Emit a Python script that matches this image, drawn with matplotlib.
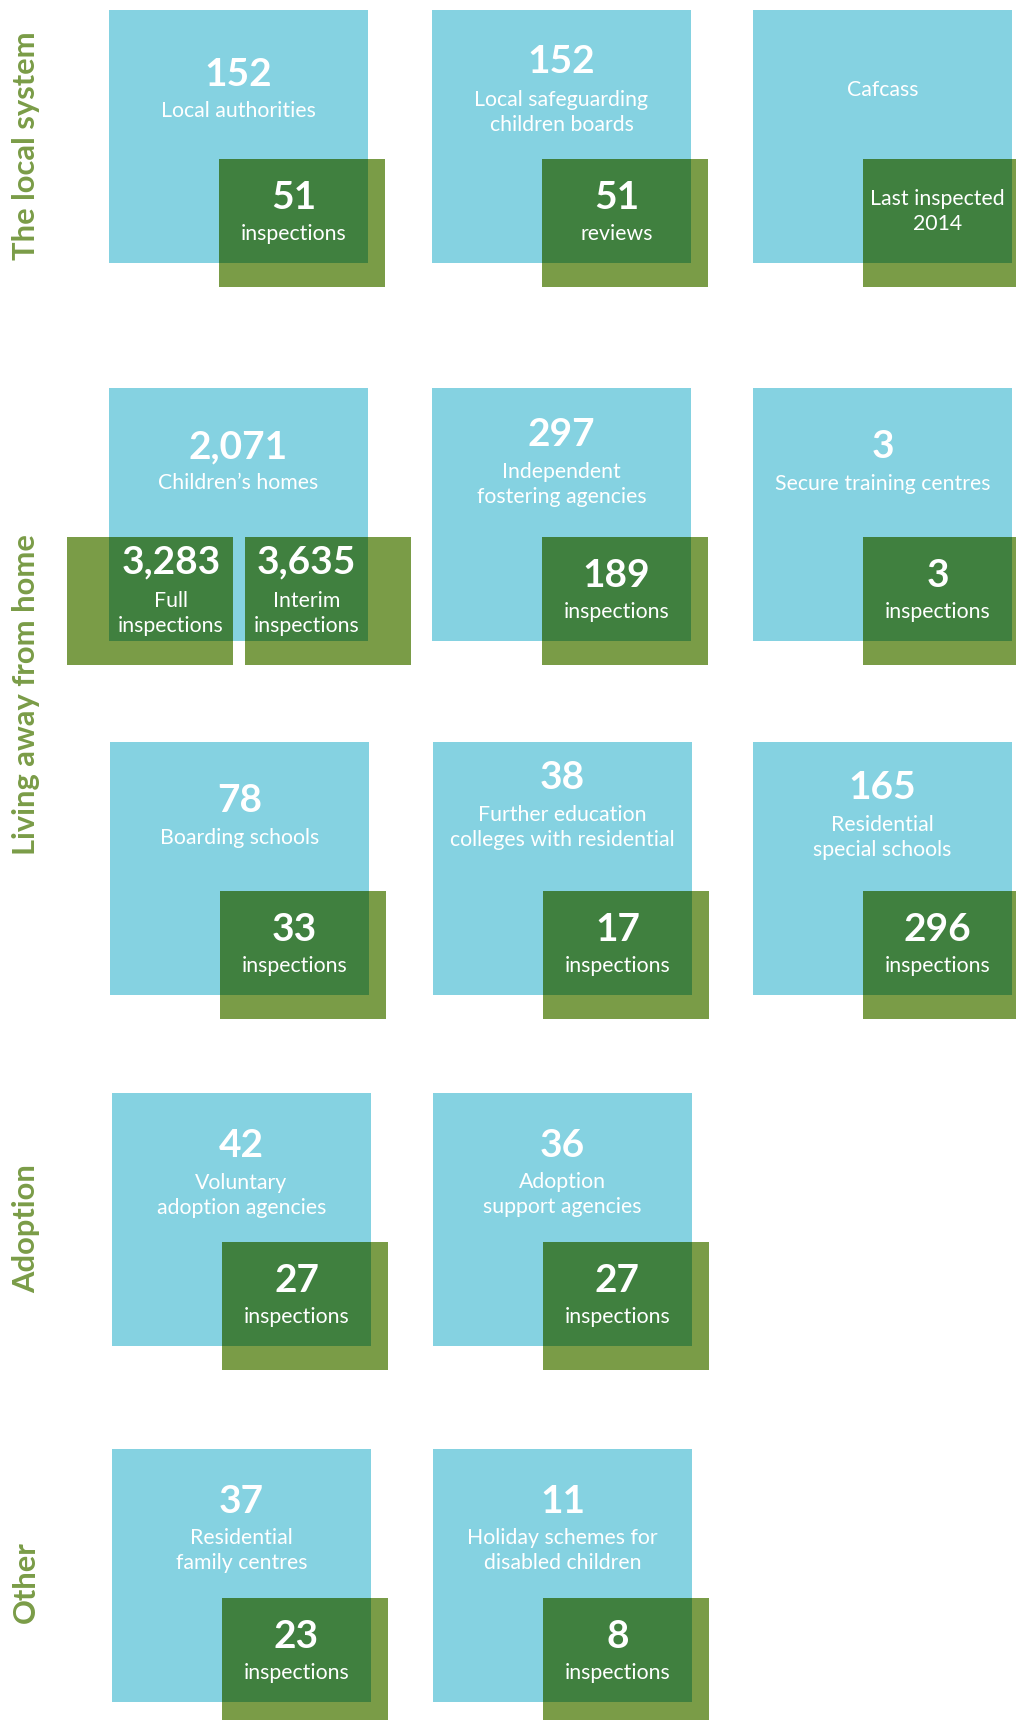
import matplotlib
matplotlib.use("Agg")
import matplotlib.pyplot as plt
from matplotlib.patches import Rectangle

# data
sections = ["The local system", "Living away from home", "Adoption", "Other"]
providers = ["Local authorities", "Local safeguarding\nchildren boards", "Cafcass",
             "Children’s homes", "Independent\nfostering agencies", "Secure training centres",
             "Boarding schools", "Further education\ncolleges with residential",
             "Residential\nspecial schools",
             "Voluntary\nadoption agencies", "Adoption\nsupport agencies",
             "Residential\nfamily centres", "Holiday schemes for\ndisabled children"]
provider_counts = [152, 152, None, 2071, 297, 3, 78, 38, 165, 42, 36, 37, 11]
inspection_counts = [51, 51, None, None, 189, 3, 33, 17, 296, 27, 27, 23, 8]
inspection_labels = ["inspections", "reviews", "Last inspected\n2014", None,
                     "inspections", "inspections", "inspections", "inspections",
                     "inspections", "inspections", "inspections", "inspections",
                     "inspections"]
home_counts = [3283, 3635]
home_labels = ["Full\ninspections", "Interim\ninspections"]

# layout (pixels, y down)
row_tops = [10, 388, 742, 1093, 1449]
col_lefts = [[109, 432, 753], [109, 432, 753], [110, 433, 753], [112, 433], [112, 433]]
# baseline of number / first label line, measured from box top
text_offsets = [(76, 107), (63, 96), (None, 86),
                (70, 101), (58, 90), (70, 102),
                (70, 102), (47, 79), (57, 89),
                (64, 96), (64, 95),
                (64, 95), (64, 95)]
section_anchor = [(35, 260), (35, 855), (35, 1293), (35, 1623)]

BW, BH = 259, 253
GW, GH = 166, 128
GDX, GDY = 110, 149
LINE = 25

blue = (0x85 / 255, 0xD2 / 255, 0xE1 / 255)
green = (0x7A / 255, 0x9C / 255, 0x47 / 255)
dark = tuple(b * g for b, g in zip(blue, green))

FONT = ["Lato", "DejaVu Sans"]
NUM_PT = 28
LAB_PT = 15.3

fig = plt.figure(figsize=(10.16, 17.2), dpi=100)
ax = fig.add_axes([0, 0, 1, 1])
ax.set_xlim(0, 1016)
ax.set_ylim(1720, 0)
ax.axis("off")


def lines_at(x, y0, text, size=LAB_PT, weight="normal"):
    for k, line in enumerate(text.split("\n")):
        ax.text(x, y0 + k * LINE, line, color="white", fontsize=size, fontweight=weight,
                family=FONT, ha="center", va="baseline")


def green_box(gx, gy, bx, by):
    ax.add_patch(Rectangle((gx, gy), GW, GH, color=green, lw=0))
    x0, x1 = max(gx, bx), min(gx + GW, bx + BW)
    y0, y1 = max(gy, by), min(gy + GH, by + BH)
    ax.add_patch(Rectangle((x0, y0), x1 - x0, y1 - y0, color=dark, lw=0))
    return (x0 + x1) / 2


i = 0
for r, top in enumerate(row_tops):
    for c, left in enumerate(col_lefts[r]):
        ax.add_patch(Rectangle((left, top), BW, BH, color=blue, lw=0))
        cx = left + BW / 2
        num_off, lab_off = text_offsets[i]
        if provider_counts[i] is not None:
            ax.text(cx, top + num_off, f"{provider_counts[i]:,}", color="white",
                    fontsize=NUM_PT, fontweight="bold", family=FONT,
                    ha="center", va="baseline")
        lines_at(cx, top + lab_off, providers[i])

        if inspection_labels[i] is None:
            # children's homes: two inspection boxes
            gxs = [left - 42, left + 136]
            for gx, n, lab in zip(gxs, home_counts, home_labels):
                gy = top + GDY
                tx = green_box(gx, gy, left, top)
                ax.text(tx, gy + 36, f"{n:,}", color="white", fontsize=NUM_PT,
                        fontweight="bold", family=FONT, ha="center", va="baseline")
                lines_at(tx, gy + 70, lab)
        else:
            gx, gy = left + GDX, top + GDY
            tx = green_box(gx, gy, left, top)
            if inspection_counts[i] is not None:
                ax.text(tx, gy + 50, f"{inspection_counts[i]:,}", color="white",
                        fontsize=NUM_PT, fontweight="bold", family=FONT,
                        ha="center", va="baseline")
                lines_at(tx, gy + 81, inspection_labels[i])
            else:
                lines_at(tx, gy + 46, inspection_labels[i])
        i += 1

for name, (x, y) in zip(sections, section_anchor):
    ax.text(x, y, name, color=green, fontsize=22.2, fontweight="bold", family=FONT,
            rotation=90, rotation_mode="anchor", ha="left", va="baseline")

fig.savefig("out.png", dpi=100)
